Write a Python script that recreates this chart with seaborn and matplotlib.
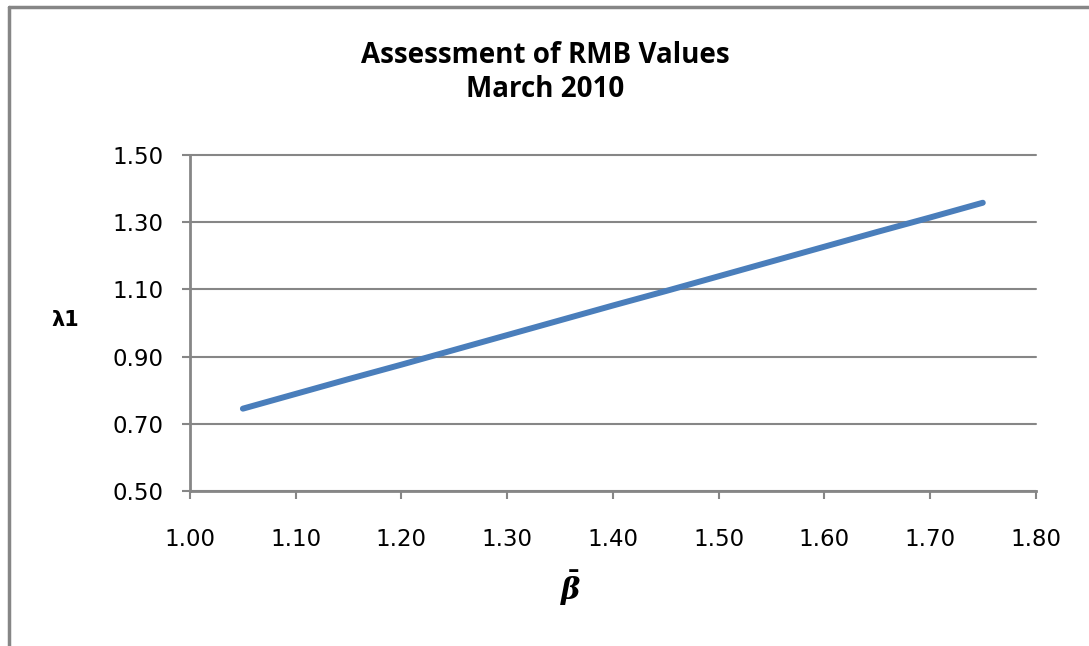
import matplotlib
matplotlib.use('Agg')
import matplotlib.pyplot as plt
import pandas as pd
import seaborn as sns
from matplotlib.lines import Line2D

# Data
beta_bar = [1.05, 1.10, 1.15, 1.20, 1.25, 1.30, 1.35, 1.40,
            1.45, 1.50, 1.55, 1.60, 1.65, 1.70, 1.75]
lambda1 = [0.745, 0.789, 0.833, 0.876, 0.920, 0.964, 1.008, 1.052,
           1.095, 1.139, 1.183, 1.227, 1.271, 1.314, 1.358]
x_ticks = [1.00, 1.10, 1.20, 1.30, 1.40, 1.50, 1.60, 1.70, 1.80]
y_ticks = [0.50, 0.70, 0.90, 1.10, 1.30, 1.50]

df = pd.DataFrame({'beta': beta_bar, 'lambda1': lambda1})

sns.set_style('white')
plt.rcParams['font.family'] = ['DejaVu Sans']
plt.rcParams['text.color'] = 'black'
plt.rcParams['mathtext.fontset'] = 'custom'
plt.rcParams['mathtext.it'] = 'DejaVu Serif:italic:bold'
plt.rcParams['mathtext.rm'] = 'DejaVu Serif:bold'

grey = '#868686'

fig = plt.figure(figsize=(10.89, 6.46), dpi=100)
ax = fig.add_axes([0.1745, 0.240, 0.7765, 0.520])

sns.lineplot(data=df, x='beta', y='lambda1', ax=ax,
             color='#4a7ebb', linewidth=4.3, solid_capstyle='round')

ax.set_xlim(1.00, 1.80)
ax.set_ylim(0.50, 1.50)
ax.set_xticks(x_ticks)
ax.set_yticks(y_ticks)
ax.set_xticklabels([f'{v:.2f}' for v in x_ticks])
ax.set_yticklabels([f'{v:.2f}' for v in y_ticks])
ax.tick_params(axis='both', labelsize=16.5, labelcolor='black', length=6,
               width=1.5, direction='out', bottom=True, left=True)
ax.tick_params(axis='x', color=grey, pad=21)
ax.tick_params(axis='y', color=grey, pad=13)
ax.yaxis.grid(True, color=grey, linewidth=1.5)
for gl in ax.get_ygridlines():
    gl.set_clip_on(False)
for s in ['top', 'right']:
    ax.spines[s].set_visible(False)
for s in ['left', 'bottom']:
    ax.spines[s].set_color(grey)
    ax.spines[s].set_linewidth(2)

ax.set_xlabel('')
ax.set_ylabel('')
fig.text(0.501, 1 - 63 / 646, 'Assessment of RMB Values',
         ha='center', va='baseline', fontsize=20, fontweight='bold',
         family='Open Sans', color='black')
fig.text(0.501, 1 - 97 / 646, 'March 2010',
         ha='center', va='baseline', fontsize=20, fontweight='bold',
         family='Open Sans', color='black')
fig.text(65 / 1089, 1 - 320 / 646, 'λ1', ha='center', va='center',
         fontsize=15, fontweight='bold', color='black')
fig.text(571 / 1089, 1 - 588 / 646, r'$\bar{\beta}$', ha='center',
         va='center', fontsize=21, color='black')

# outer chart frame (top and left edges visible)
fig.add_artist(Line2D([9 / 1089, 1.0], [1 - 7 / 646, 1 - 7 / 646],
                      color=grey, linewidth=2.5))
fig.add_artist(Line2D([9 / 1089, 9 / 1089], [0.0, 1 - 7 / 646],
                      color=grey, linewidth=2.5))

fig.savefig('out.png', dpi=100)
